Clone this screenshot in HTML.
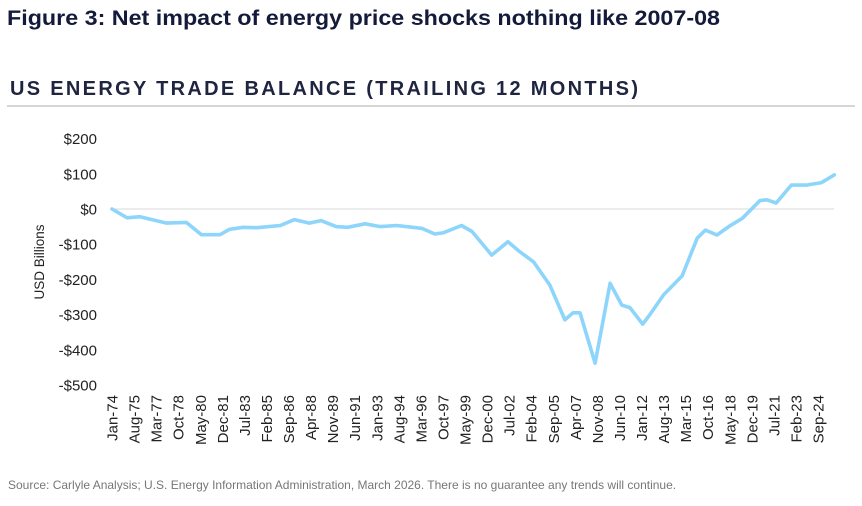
<!DOCTYPE html>
<html><head><meta charset="utf-8"><style>
body{margin:0;background:#fff;width:862px;height:501px;overflow:hidden;font-family:"Liberation Sans",Arial,sans-serif}
</style></head><body>
<svg width="862" height="501" xmlns="http://www.w3.org/2000/svg" font-family="Liberation Sans, Arial, sans-serif">
<text x="7" y="25" font-size="21" font-weight="bold" fill="#141a3a" textLength="713" lengthAdjust="spacingAndGlyphs">Figure 3: Net impact of energy price shocks nothing like 2007-08</text>
<text x="10" y="95" font-size="20" font-weight="bold" fill="#1f2440" textLength="628" lengthAdjust="spacing">US ENERGY TRADE BALANCE (TRAILING 12 MONTHS)</text>
<line x1="7" y1="106" x2="855" y2="106" stroke="#c8c8c8" stroke-width="1.5"/>
<text transform="translate(44,262) rotate(-90)" text-anchor="middle" font-size="13.5" fill="#222">USD Billions</text>
<g id="yt"></g><g id="xt"></g><g id="plot"></g>
<text x="8" y="489" font-size="12" fill="#777">Source: Carlyle Analysis; U.S. Energy Information Administration, March 2026. There is no guarantee any trends will continue.</text>
</svg>
<script>
const yTicks=[200,100,0,-100,-200,-300,-400,-500];
const xLabels=["Jan-74","Aug-75","Mar-77","Oct-78","May-80","Dec-81","Jul-83","Feb-85","Sep-86","Apr-88","Nov-89","Jun-91","Jan-93","Aug-94","Mar-96","Oct-97","May-99","Dec-00","Jul-02","Feb-04","Sep-05","Apr-07","Nov-08","Jun-10","Jan-12","Aug-13","Mar-15","Oct-16","May-18","Dec-19","Jul-21","Feb-23","Sep-24"];
const months=[0,13,24,47,64,77,93,101,113,125,145,157,170,180,193,203,218,231,245,259,267,278,285,301,310,327,341,351,363,377,390,397,403,416,429,439,446,457,463,475,491,504,511,521,532,543,558,564,572,585,598,611,622];
const values=[0,-25,-22,-40,-38,-73,-73,-58,-52,-53,-47,-30,-40,-33,-50,-52,-42,-50,-47,-52,-55,-71,-68,-47,-64,-131,-93,-121,-150,-216,-315,-295,-295,-438,-211,-273,-280,-327,-301,-244,-190,-83,-60,-74,-48,-26,24,26,17,68,68,75,97];
const X=m=>112+m*(818-112)/608;
const Y=v=>209-v*0.352;
const NS="http://www.w3.org/2000/svg";
const yt=document.getElementById('yt'),xt=document.getElementById('xt'),plot=document.getElementById('plot');
yTicks.forEach(v=>{
 const t=document.createElementNS(NS,'text');
 
 
 t.setAttribute('x',97);t.setAttribute('y',Y(v)+5.5);t.setAttribute('text-anchor','end');
 t.setAttribute('font-size','15');t.setAttribute('fill','#222');
 t.textContent=(v<0?'-$':'$')+Math.abs(v);yt.appendChild(t);
});
const g=document.createElementNS(NS,'line');


g.setAttribute('x1',112);g.setAttribute('x2',834);g.setAttribute('y1',Y(0));g.setAttribute('y2',Y(0));
g.setAttribute('stroke','#d9d9d9');g.setAttribute('stroke-width','1');plot.appendChild(g);
xLabels.forEach((l,i)=>{
 const t=document.createElementNS(NS,'text');
 
 
 const x=X(i*19)+5.5;
 t.setAttribute('transform','translate('+x+',395) rotate(-90)');t.setAttribute('text-anchor','end');
 t.setAttribute('font-size','15');t.setAttribute('fill','#222');
 t.textContent=l;xt.appendChild(t);
});
const p=document.createElementNS(NS,'polyline');


p.setAttribute('points',months.map((m,i)=>X(m).toFixed(1)+','+Y(values[i]).toFixed(1)).join(' '));
p.setAttribute('fill','none');p.setAttribute('stroke','#8ed5fb');p.setAttribute('stroke-width','3.6');
p.setAttribute('stroke-linejoin','round');p.setAttribute('stroke-linecap','round');
plot.appendChild(p);
</script>
</body></html>
